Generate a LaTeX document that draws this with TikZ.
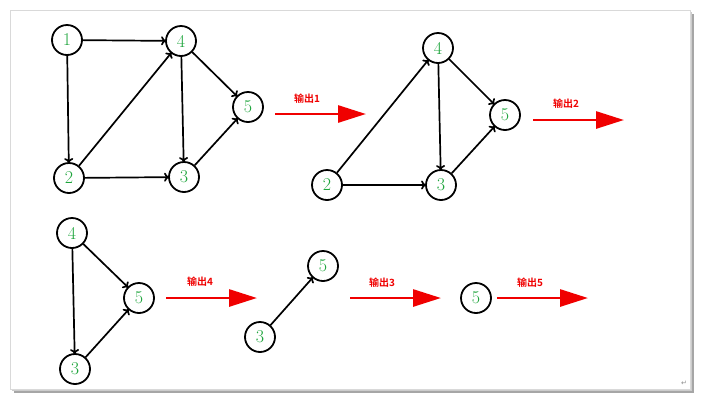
\documentclass[tikz,border=0pt]{standalone}
\usepackage{fontspec}
\newfontfamily\cjk{Noto Sans CJK SC}[BoldFont={Noto Sans CJK SC Bold}]
\newfontfamily\djv{DejaVu Sans}
\usetikzlibrary{arrows.meta,shadows}
\definecolor{ngreen}{RGB}{30,165,60}
\definecolor{ared}{RGB}{240,0,0}
\tikzset{
  vert/.style={circle,draw=black,line width=1.8pt,minimum size=30pt,inner sep=0pt,text=ngreen,font=\fontsize{18}{18}\selectfont},
  edge/.style={line width=1.7pt,-{To[length=5pt,width=9pt]}, shorten >=-1pt},
  outarrow/.style={ared,line width=2.8pt,-{Triangle[length=28pt,width=17pt]}},
  outlabel/.style={ared,font=\cjk\bfseries\fontsize{10}{10}\selectfont}
}
\begin{document}
\begin{tikzpicture}[x=1pt,y=-1pt]
\useasboundingbox (0,0) rectangle (701,400);
% page frame with shadow
\fill[black!35] (14,14) rectangle (694,393);
\fill[black!20] (12,12) rectangle (692,391);
\draw[black!15,fill=white] (10,10) rectangle (690,389);
\node[text=black!45,font=\djv\fontsize{7}{7}\selectfont] (para) at (684,383) {↵};

% graph 1
\node[vert] (a1) at (67,40) {1};
\node[vert] (a4) at (181,41) {4};
\node[vert] (a5) at (248,107) {5};
\node[vert] (a2) at (69,178) {2};
\node[vert] (a3) at (184,177) {3};
\draw[edge] (a1) -- (a4);
\draw[edge] (a1) -- (a2);
\draw[edge] (a2) -- (a4);
\draw[edge] (a2) -- (a3);
\draw[edge] (a4) -- (a3);
\draw[edge] (a4) -- (a5);
\draw[edge] (a3) -- (a5);

\coordinate (o1s) at (275,114); \coordinate (o1e) at (366,114);
\draw[outarrow] (o1s) -- (o1e);
\node[outlabel] (l1) at (307,99) {输出1};

% graph 2
\node[vert] (b4) at (438,48) {4};
\node[vert] (b5) at (505,115) {5};
\node[vert] (b2) at (327,185) {2};
\node[vert] (b3) at (441,185) {3};
\draw[edge] (b2) -- (b4);
\draw[edge] (b2) -- (b3);
\draw[edge] (b4) -- (b3);
\draw[edge] (b4) -- (b5);
\draw[edge] (b3) -- (b5);

\coordinate (o2s) at (533,120); \coordinate (o2e) at (624,120);
\draw[outarrow] (o2s) -- (o2e);
\node[outlabel] (l2) at (566,104) {输出2};

% graph 3
\node[vert] (c4) at (72,233) {4};
\node[vert] (c5) at (139,298) {5};
\node[vert] (c3) at (75,369) {3};
\draw[edge] (c4) -- (c3);
\draw[edge] (c4) -- (c5);
\draw[edge] (c3) -- (c5);

\coordinate (o4s) at (166,298); \coordinate (o4e) at (257,298);
\draw[outarrow] (o4s) -- (o4e);
\node[outlabel] (l4) at (200,282) {输出4};

% graph 4
\node[vert] (d5) at (323,266) {5};
\node[vert] (d3) at (260,337) {3};
\draw[edge] (d3) -- (d5);

\coordinate (o3s) at (350,298); \coordinate (o3e) at (441,298);
\draw[outarrow] (o3s) -- (o3e);
\node[outlabel] (l3) at (382,283) {输出3};

% graph 5
\node[vert] (e5) at (476,298) {5};
\coordinate (o5s) at (497,298); \coordinate (o5e) at (588,298);
\draw[outarrow] (o5s) -- (o5e);
\node[outlabel] (l5) at (530,283) {输出5};
\end{tikzpicture}
\end{document}
